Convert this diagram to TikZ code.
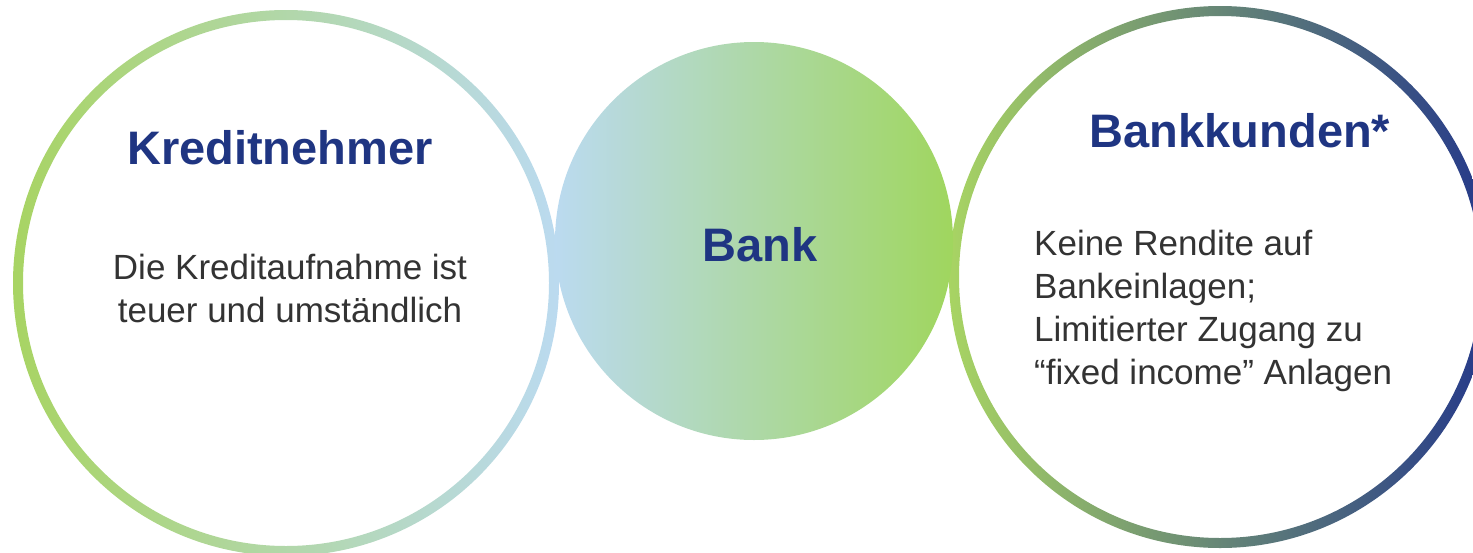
\documentclass[tikz,border=0pt]{standalone}
\usepackage{fontspec}
\setmainfont{Liberation Sans}
\usepackage{xcolor}
\definecolor{headblue}{HTML}{1F3582}
\definecolor{bodygray}{HTML}{333333}
\definecolor{leafgreen}{HTML}{A8D463}
\definecolor{skyblue}{HTML}{BBDAF0}
\definecolor{navyblue}{HTML}{24388A}
\definecolor{sagegray}{HTML}{7A9F77}
\def\ringw{10}
\newcommand{\drawring}[5]{
  \shade[even odd rule, left color=#3, middle color=#4, right color=#5]
    (#1) circle[radius=#2] (#1) circle[radius=#2-\ringw];
}

\begin{document}
\begin{tikzpicture}[x=1pt, y=-1pt,
    head/.style={text=headblue, font=\fontsize{47}{50}\selectfont\bfseries},
    body/.style={text=bodygray, font=\fontsize{35}{43}\selectfont, inner sep=0}]
    \useasboundingbox (0,0) rectangle (1473,552);
    \clip (0,0) rectangle (1473,552);

    \coordinate (lender) at (286,283);
    \coordinate (client) at (1220,277);
    \drawring{lender}{273}{leafgreen}{leafgreen!50!skyblue}{skyblue}
    \drawring{client}{271}{leafgreen}{sagegray}{navyblue}

    \node[circle, minimum size=398, inner sep=0, left color=skyblue, right color=leafgreen!95!green]
      (bank) at (754,241) {};
    \node[head, anchor=base] (banktitle) at (760,261) {Bank};

    \node[head, anchor=base] (lendertitle) at (280,164) {Kreditnehmer};
    \node[body, anchor=base, align=center] (lendertext) at (290,322)
      {Die Kreditaufnahme ist\\teuer und umständlich};

    \node[head, anchor=base] (clienttitle) at (1240,147) {Bankkunden*};
    \node[body, anchor=base west, align=left] (clienttext) at (1034,384)
      {Keine Rendite auf\\Bankeinlagen;\\Limitierter Zugang zu\\“fixed income” Anlagen};
  \end{tikzpicture}
\end{document}
